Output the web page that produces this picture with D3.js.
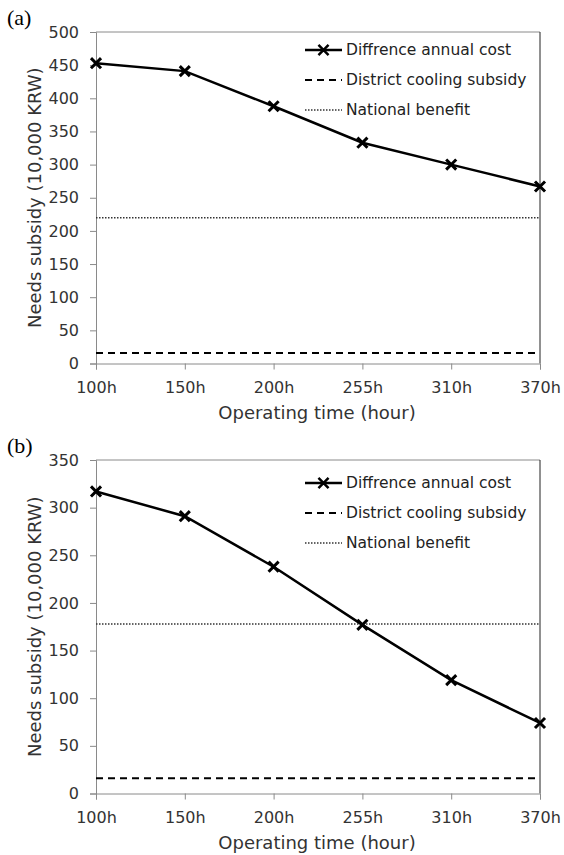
<!DOCTYPE html>
<html>
<head>
<meta charset="utf-8">
<script src="https://cdn.jsdelivr.net/npm/d3@7"></script>
<style>
  body { margin: 0; background: #fff; }
  svg { display: block; }
  .tick text { font-family: "DejaVu Sans", sans-serif; fill: #333; }
</style>
</head>
<body>
<svg id="chart"></svg>
<script>
// categories on the x axis
const hours = ['100h', '150h', '200h', '255h', '310h', '370h'];

// panel (a)
const costA = [453, 441, 388, 333, 300, 267];
const subsidyA = 16;
const benefitA = 220;
const yTicksA = [0, 50, 100, 150, 200, 250, 300, 350, 400, 450, 500];

// panel (b)
const costB = [317, 291, 238, 177, 119, 74];
const subsidyB = 16;
const benefitB = 178;
const yTicksB = [0, 50, 100, 150, 200, 250, 300, 350];

const legendNames = ['Diffrence annual cost', 'District cooling subsidy', 'National benefit'];

const svg = d3.select('#chart')
    .attr('width', 564)
    .attr('height', 855);

function drawPanel(opt) {
    let left = 96, right = 540;

    let x = d3.scalePoint()
        .domain(hours)
        .range([left, right])
        .padding(0);

    let y = d3.scaleLinear()
        .domain([0, d3.max(opt.ticks)])
        .range([opt.bottom, opt.top]);

    let g = svg.append('g');

    // panel letter
    g.append('text')
        .attr('x', 7)
        .attr('y', opt.top - 7)
        .style('font-family', '"Liberation Serif", serif')
        .style('font-size', '22px')
        .text(opt.letter);

    // top and right border of the plot area
    g.append('line')
        .attr('x1', left).attr('x2', right)
        .attr('y1', opt.top).attr('y2', opt.top)
        .attr('stroke', '#8a8a8a');
    g.append('line')
        .attr('x1', right).attr('x2', right)
        .attr('y1', opt.top).attr('y2', opt.bottom)
        .attr('stroke', '#222');

    // y axis
    let yAxis = g.append('g')
        .attr('transform', `translate(${left},0)`)
        .call(d3.axisLeft(y).tickValues(opt.ticks).tickSize(6).tickPadding(11));
    yAxis.selectAll('path, line').attr('stroke', '#8a8a8a');
    yAxis.selectAll('text').style('font-size', '16px');

    // x axis
    let xAxis = g.append('g')
        .attr('transform', `translate(0,${opt.bottom})`)
        .call(d3.axisBottom(x).tickSize(6).tickPadding(12));
    xAxis.selectAll('path, line').attr('stroke', '#8a8a8a');
    xAxis.selectAll('text').style('font-size', '16px');

    // axis titles
    g.append('text')
        .attr('x', (left + right) / 2 - 1)
        .attr('y', opt.bottom + 55)
        .attr('text-anchor', 'middle')
        .style('font-family', '"DejaVu Sans", sans-serif')
        .style('font-size', '18px')
        .style('fill', '#333')
        .text('Operating time (hour)');

    g.append('text')
        .attr('transform', `translate(41,${(opt.top + opt.bottom) / 2}) rotate(-90)`)
        .attr('text-anchor', 'middle')
        .style('font-family', '"DejaVu Sans", sans-serif')
        .style('font-size', '18px')
        .style('fill', '#333')
        .text('Needs subsidy (10,000 KRW)');

    // horizontal reference lines
    g.append('line')
        .attr('x1', left).attr('x2', right)
        .attr('y1', y(opt.benefit)).attr('y2', y(opt.benefit))
        .attr('stroke', '#333')
        .attr('stroke-width', 1.5)
        .attr('stroke-dasharray', '1.5,1.5');

    g.append('line')
        .attr('x1', left).attr('x2', right)
        .attr('y1', y(opt.subsidy)).attr('y2', y(opt.subsidy))
        .attr('stroke', '#000')
        .attr('stroke-width', 2)
        .attr('stroke-dasharray', '7,5');

    // main series
    let line = d3.line()
        .x((d, i) => x(hours[i]))
        .y(d => y(d));

    g.append('path')
        .datum(opt.cost)
        .attr('d', line)
        .attr('fill', 'none')
        .attr('stroke', '#000')
        .attr('stroke-width', 2.5);

    let marker = d3.symbol(d3.symbolX, 68);
    g.selectAll('.mark')
        .data(opt.cost)
        .join('path')
        .attr('class', 'mark')
        .attr('transform', (d, i) => `translate(${x(hours[i])},${y(d)})`)
        .attr('d', marker)
        .attr('fill', 'none')
        .attr('stroke', '#000')
        .attr('stroke-width', 3);

    // legend
    let leg = g.append('g');
    let styles = [
        { dash: null, width: 2.5 },
        { dash: '7,5', width: 2 },
        { dash: '1.5,1.5', width: 1.5 }
    ];
    legendNames.forEach((name, i) => {
        let ly = opt.legendTop + i * 30;
        leg.append('line')
            .attr('x1', 305).attr('x2', 342)
            .attr('y1', ly).attr('y2', ly)
            .attr('stroke', i == 2 ? '#333' : '#000')
            .attr('stroke-width', styles[i].width)
            .attr('stroke-dasharray', styles[i].dash);
        if (i == 0) {
            leg.append('path')
                .attr('transform', `translate(323.5,${ly})`)
                .attr('d', marker)
                .attr('fill', 'none')
                .attr('stroke', '#000')
                .attr('stroke-width', 2.5);
        }
        leg.append('text')
            .attr('x', 346)
            .attr('y', ly)
            .attr('dy', '0.35em')
            .style('font-family', '"DejaVu Sans", sans-serif')
            .style('font-size', '15.5px')
            .style('fill', '#222')
            .text(name);
    });
}

drawPanel({ letter: '(a)', top: 32, bottom: 363.5, ticks: yTicksA, cost: costA,
            subsidy: subsidyA, benefit: benefitA, legendTop: 50 });
drawPanel({ letter: '(b)', top: 460, bottom: 793.5, ticks: yTicksB, cost: costB,
            subsidy: subsidyB, benefit: benefitB, legendTop: 483 });
</script>
</body>
</html>
